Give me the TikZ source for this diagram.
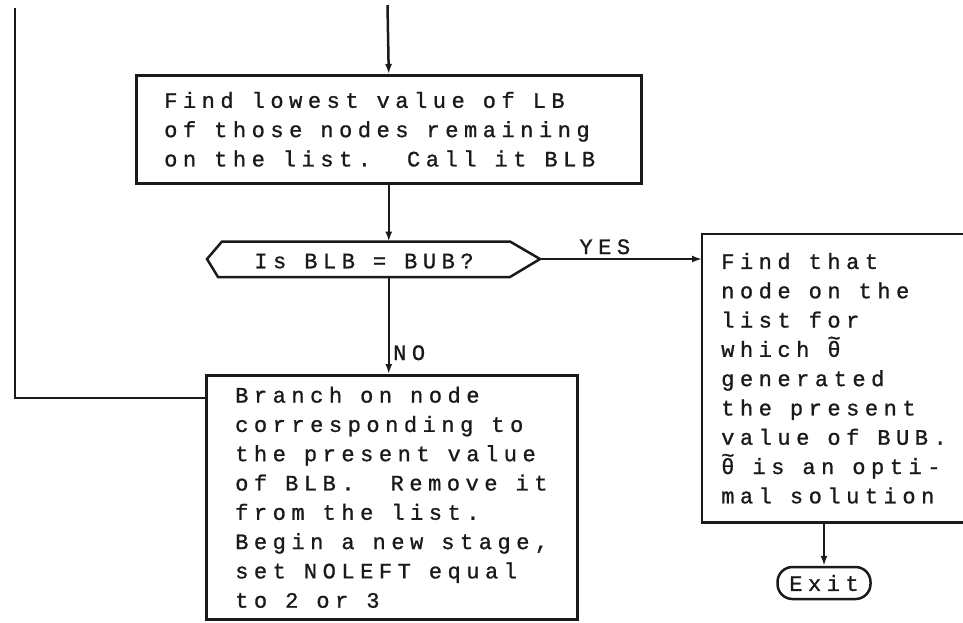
\documentclass[tikz,border=0pt]{standalone}
\usepackage{fontspec}
\newfontfamily\tw[LetterSpace=25.2,FakeBold=1]{Liberation Mono}
\usetikzlibrary{arrows.meta,calc}
\definecolor{ink}{HTML}{1A1A1A}
\newcommand\twfont{\tw\fontsize{22}{29.3}\selectfont\spaceskip=18pt plus 0pt minus 0pt\relax}
\newcommand\tth{\ooalign{θ\cr\hidewidth\raisebox{0.52em}{\char"7E}\hidewidth\cr}}
\begin{document}
\begin{tikzpicture}[x=1pt,y=-1pt,
  lw/.style={line width=2.5pt, draw=ink},
  box/.style={lw, rectangle, align=left, font=\twfont, text=ink, inner sep=0pt},
  arr/.style={line width=2.5pt, draw=ink, -{Latex[length=10pt,width=7pt]}},
  lab/.style={font=\twfont, text=ink, inner sep=0pt}
]
\useasboundingbox[fill=white] (0,0) rectangle (963,622);
\clip (0,0) rectangle (963,622);

\node[box, anchor=north west, minimum width=505pt, minimum height=108pt] (b1) at (135,74)
  {\makebox[449pt][l]{Find lowest value of LB}\\ of those nodes remaining\\ on the list.\ \ Call it BLB};

\coordinate (hc) at (364,259);
\node[lab] (dec) at (364,261) {Is BLB = BUB?};
\coordinate (decW) at ($(hc)+(-157,0)$);
\coordinate (decE) at ($(hc)+(176,0)$);
\coordinate (decN) at ($(hc)+(0,-17.5)$);
\coordinate (decS) at ($(hc)+(0,18)$);
\draw[lw, line join=miter] (decW) -- ($(hc)+(-142,-17.5)$) -- ($(hc)+(146,-17.5)$) -- (decE)
  -- ($(hc)+(146,18)$) -- ($(hc)+(-146,18)$) -- cycle;

\node[box, anchor=north west, minimum width=371pt, minimum height=244pt] (b3) at (205,374)
  {Branch on node\\ corresponding to\\ the present value\\ of BLB.\ \ Remove it\\ from the list.\\ Begin a new stage,\\ set NOLEFT equal\\ to 2 or 3};

\node[box, draw=none, anchor=north west, minimum width=330pt, minimum height=286pt] (b2) at (702,234)
  {\makebox[294pt][l]{Find that}\\ node on the\\ list for\\ which \tth\\ generated\\ the present\\ value of BUB.\\ \tth{} is an opti-\\ mal solution};
\draw[lw] (b2.north east) -- (b2.north west) -- (b2.south west) -- (b2.south east);

\node[lw, lab, rounded corners=15pt, minimum width=93pt, minimum height=32pt] (exit) at (824,583) {Exit};

\coordinate (top) at (387.5,5);
\draw[arr] (top) -- (b1.north);
\draw[arr] (b1.south) -- (b1.south |- decN);
\draw[arr] (b1.south |- decS) -- (b1.south |- b3.north);
\node[lab, anchor=base west] (no) at (393,360) {NO};
\draw[arr] (decE) -- (decE -| b2.west) node[lab, pos=0.4, anchor=base, yshift=5pt] (yes) {YES};
\draw[arr] (exit.north |- b2.south) -- (exit.north);

\coordinate (lp) at (205,398);
\coordinate (lt) at (15,8);
\draw[lw] (lp) -| (lt);
\end{tikzpicture}
\end{document}
